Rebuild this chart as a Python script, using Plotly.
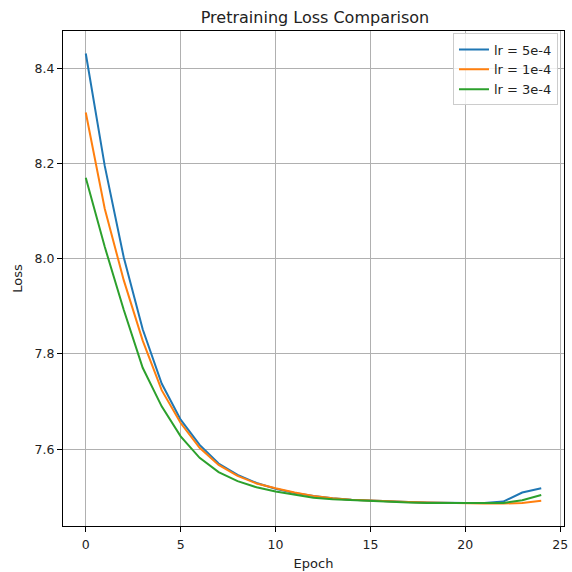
import plotly.graph_objects as go

epochs = list(range(25))
loss_5e4 = [8.431, 8.195, 8.003, 7.852, 7.738, 7.662, 7.609, 7.570, 7.546, 7.529,
            7.517, 7.508, 7.502, 7.497, 7.494, 7.492, 7.490, 7.489, 7.488, 7.487,
            7.487, 7.487, 7.490, 7.509, 7.518]
loss_1e4 = [8.307, 8.105, 7.955, 7.828, 7.724, 7.655, 7.603, 7.567, 7.544, 7.528,
            7.518, 7.509, 7.502, 7.497, 7.494, 7.492, 7.490, 7.489, 7.488, 7.487,
            7.487, 7.486, 7.486, 7.487, 7.492]
loss_3e4 = [8.170, 8.025, 7.893, 7.771, 7.690, 7.627, 7.582, 7.552, 7.533, 7.520,
            7.511, 7.504, 7.498, 7.495, 7.493, 7.491, 7.489, 7.488, 7.487, 7.487,
            7.486, 7.486, 7.487, 7.493, 7.504]
series_names = ["lr = 5e-4", "lr = 1e-4", "lr = 3e-4"]
colors = ["#1f77b4", "#ff7f0e", "#2ca02c"]
x_ticks = [0, 5, 10, 15, 20, 25]
y_ticks = [7.6, 7.8, 8.0, 8.2, 8.4]

fig = go.Figure()
for name, ys, c in zip(series_names, [loss_5e4, loss_1e4, loss_3e4], colors):
    fig.add_trace(go.Scatter(x=epochs, y=ys, mode="lines", name=name,
                             line=dict(color=c, width=2)))

all_y = loss_5e4 + loss_1e4 + loss_3e4
ymin, ymax = min(all_y), max(all_y)
pad = (ymax - ymin) * 0.05

axis_common = dict(showline=True, mirror=True, linecolor="black", linewidth=1,
                   showgrid=True, gridcolor="#b0b0b0", gridwidth=1,
                   ticks="outside", ticklen=5, tickcolor="black",
                   tickfont=dict(size=12.5, color="#222222"), zeroline=False,
                   ticklabeloverflow="allow")

fig.update_layout(
    width=572, height=572,
    margin=dict(l=63, r=4, t=31, b=45),
    paper_bgcolor="white", plot_bgcolor="white",
    font=dict(family="DejaVu Sans", color="#222222"),
    title=dict(text="Pretraining Loss Comparison", x=0.5507, xanchor="center",
               y=0.970, yanchor="middle", yref="container",
               font=dict(size=16, color="#222222")),
    xaxis=dict(range=[-1.2, 25.2], tickvals=x_ticks, ticklabelstandoff=2,
               title=dict(text="Epoch", font=dict(size=13), standoff=7),
               **axis_common),
    yaxis=dict(range=[ymin - pad, ymax + pad], tickvals=y_ticks,
               tickformat=".1f",
               title=dict(text="Loss", font=dict(size=13), standoff=9),
               **axis_common),
    legend=dict(x=0.988, y=0.995, xanchor="right", yanchor="top",
                bgcolor="rgba(255,255,255,0.8)", bordercolor="#cccccc",
                borderwidth=1, font=dict(size=13)),
    showlegend=True,
)

fig.write_html(
    "out.html",
    config={"displayModeBar": False},
    post_script="document.body.style.margin='0';document.body.style.overflow='hidden';",
)
